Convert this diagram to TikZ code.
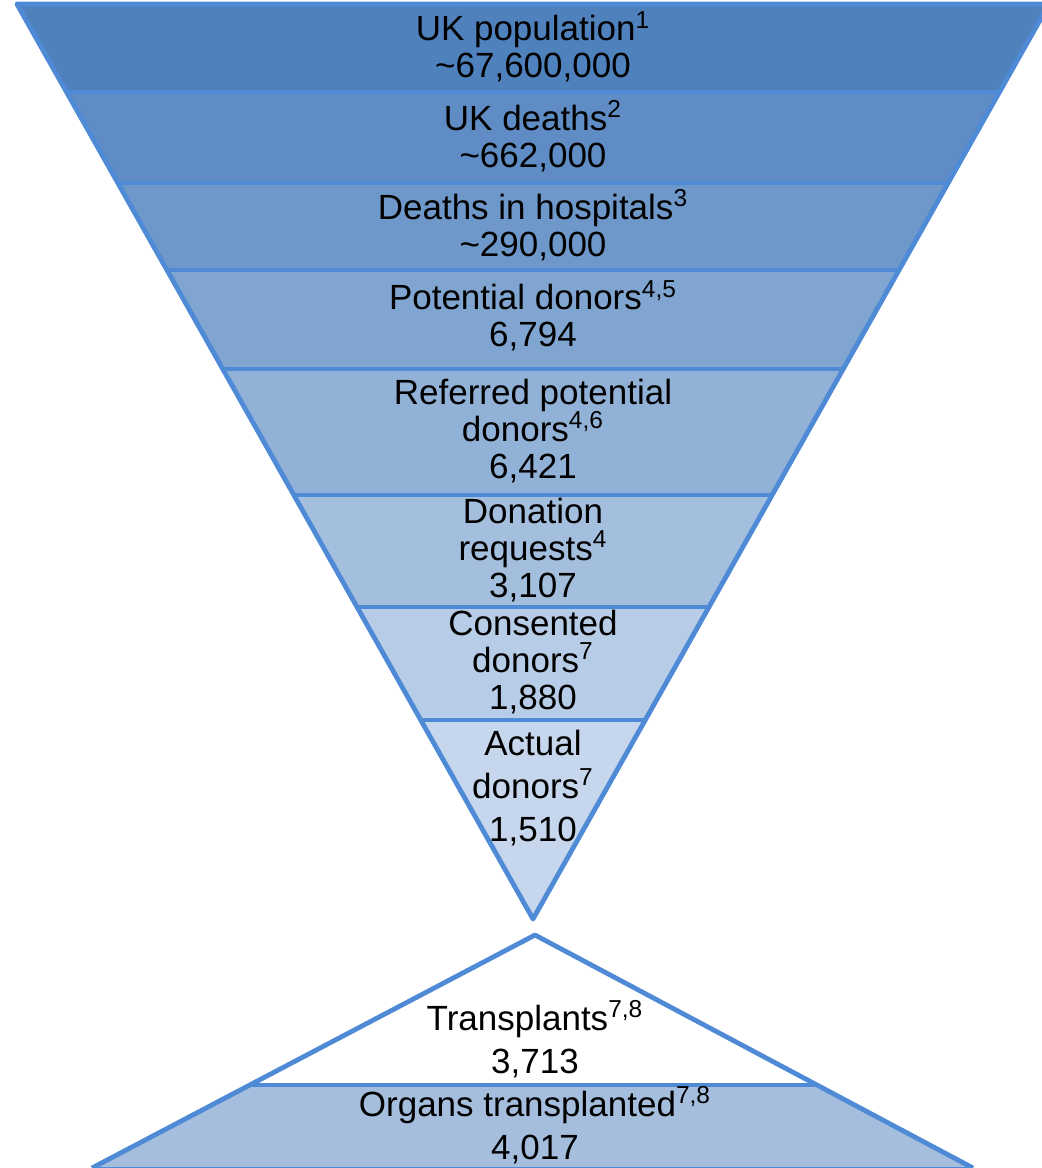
\documentclass[tikz,border=0pt]{standalone}
\usepackage{fontspec}
\setmainfont{Liberation Sans}
\definecolor{edgeblue}{HTML}{4F8AD6}
\definecolor{bA}{HTML}{4F81BD}
\definecolor{bB}{HTML}{5F8CC4}
\definecolor{bC}{HTML}{6F98CA}
\definecolor{bD}{HTML}{80A5D0}
\definecolor{bE}{HTML}{91B1D7}
\definecolor{bF}{HTML}{A4BEDE}
\definecolor{bG}{HTML}{B7CCE6}
\definecolor{bH}{HTML}{C6D6EC}
\definecolor{bI}{HTML}{A5BEDE}
\begin{document}
\begin{tikzpicture}[x=0.5pt,y=-0.5pt,
  lbl/.style={align=center,inner sep=0pt,text=black,font=\fontsize{17.5}{18.5}\selectfont},
  edgeline/.style={draw=edgeblue,line width=2.4pt,line join=round}]
\useasboundingbox (0,0) rectangle (1042,1168);
\clip (0,0) rectangle (1042,1168);
% upper funnel coordinates
\coordinate (L0) at (16.9,4);   \coordinate (R0) at (1049.1,4);
\coordinate (L1) at (66.6,92);  \coordinate (R1) at (999.4,92);
\coordinate (L2) at (117.9,183);\coordinate (R2) at (948.1,183);
\coordinate (L3) at (167,270);  \coordinate (R3) at (899,270);
\coordinate (L4) at (222.8,369);\coordinate (R4) at (843.2,369);
\coordinate (L5) at (293.9,495);\coordinate (R5) at (772.1,495);
\coordinate (L6) at (357,607);  \coordinate (R6) at (709,607);
\coordinate (L7) at (420.8,720);\coordinate (R7) at (645.2,720);
\coordinate (A) at (533,919);
% fills
\fill[bA] (L0) -- (R0) -- (R1) -- (L1) -- cycle;
\fill[bB] (L1) -- (R1) -- (R2) -- (L2) -- cycle;
\fill[bC] (L2) -- (R2) -- (R3) -- (L3) -- cycle;
\fill[bD] (L3) -- (R3) -- (R4) -- (L4) -- cycle;
\fill[bE] (L4) -- (R4) -- (R5) -- (L5) -- cycle;
\fill[bF] (L5) -- (R5) -- (R6) -- (L6) -- cycle;
\fill[bG] (L6) -- (R6) -- (R7) -- (L7) -- cycle;
\fill[bH] (L7) -- (R7) -- (A) -- cycle;
% outlines
\draw[edgeline] (L0) -- (R0) -- (A) -- cycle;
\draw[edgeline] (L1) -- (R1);
\draw[edgeline] (L2) -- (R2);
\draw[edgeline] (L3) -- (R3);
\draw[edgeline] (L4) -- (R4);
\draw[edgeline] (L5) -- (R5);
\draw[edgeline] (L6) -- (R6);
\draw[edgeline] (L7) -- (R7);
% lower shape
\coordinate (B) at (535,935);
\coordinate (BL) at (250,1085); \coordinate (BR) at (817,1085);
\coordinate (CL) at (92,1168);  \coordinate (CR) at (973,1168);
\fill[white] (B) -- (BR) -- (BL) -- cycle;
\fill[bI] (BL) -- (BR) -- (CR) -- (CL) -- cycle;
\draw[edgeline] (CL) -- (B) -- (CR);
\draw[edgeline] (BL) -- (BR);
\draw[draw=edgeblue,line width=0.8pt] (CL) -- (CR);
% labels
\node[lbl] (t1) at (533,47) {UK population\textsuperscript{1}\\\textasciitilde67,600,000};
\node[lbl] (t2) at (533,136) {UK deaths\textsuperscript{2}\\\textasciitilde662,000};
\node[lbl] (t3) at (533,225) {Deaths in hospitals\textsuperscript{3}\\\textasciitilde290,000};
\node[lbl] (t4) at (533,316) {Potential donors\textsuperscript{4,5}\\6,794};
\node[lbl] (t5) at (533,431) {Referred potential\\donors\textsuperscript{4,6}\\6,421};
\node[lbl] (t6) at (533,550) {Donation\\requests\textsuperscript{4}\\3,107};
\node[lbl] (t7) at (533,662) {Consented\\donors\textsuperscript{7}\\1,880};
\node[lbl] (t8) at (533,788) {Actual\\[3pt]donors\textsuperscript{7}\\[3pt]1,510};
\node[lbl] (t9) at (535,1039) {Transplants\textsuperscript{7,8}\\[3pt]3,713};
\node[lbl] (t10) at (535,1125) {Organs transplanted\textsuperscript{7,8}\\[3pt]4,017};
\end{tikzpicture}
\end{document}
